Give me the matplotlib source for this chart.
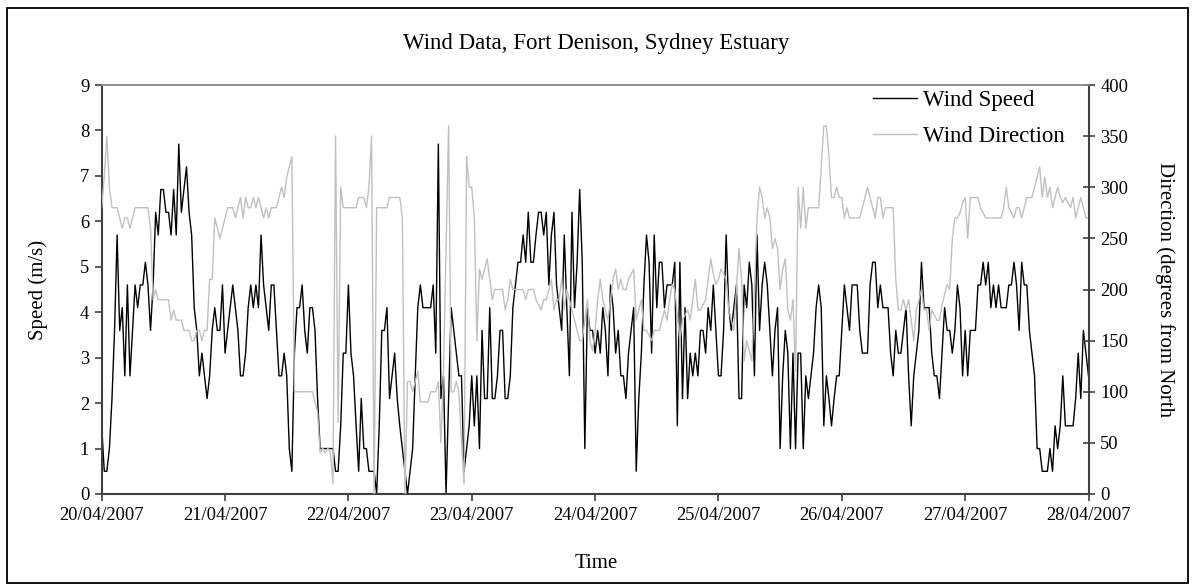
import matplotlib
matplotlib.use("Agg")
import matplotlib.pyplot as plt
import matplotlib.dates as mdates
import pandas as pd
from matplotlib.patches import Rectangle

# Half-hourly readings from 20/04/2007 00:00 to 28/04/2007 00:00
start = "2007-04-20 00:00"
end = "2007-04-28 00:00"

speed_ms = [
    # 20/04
    1.5, 0.5, 0.5, 1.0, 2.1, 3.6, 5.7, 3.6, 4.1, 2.6, 4.6, 2.6,
    3.6, 4.6, 4.1, 4.6, 4.6, 5.1, 4.6, 3.6, 4.6, 6.2, 5.7, 6.7,
    6.7, 6.2, 6.2, 5.7, 6.7, 5.7, 7.7, 6.2, 6.7, 7.2, 6.2, 5.7,
    4.1, 3.6, 2.6, 3.1, 2.6, 2.1, 2.6, 3.6, 4.1, 3.6, 3.6, 4.6,
    # 21/04
    3.1, 3.6, 4.1, 4.6, 4.1, 3.6, 2.6, 2.6, 3.1, 4.1, 4.6, 4.1,
    4.6, 4.1, 5.7, 4.6, 4.1, 3.6, 4.6, 4.6, 3.6, 2.6, 2.6, 3.1,
    2.6, 1.0, 0.5, 3.1, 4.1, 4.1, 4.6, 3.6, 3.1, 4.1, 4.1, 3.6,
    2.1, 1.0, 1.0, 1.0, 1.0, 1.0, 1.0, 0.5, 0.5, 1.5, 3.1, 3.1,
    # 22/04
    4.6, 3.1, 2.6, 1.5, 0.5, 2.1, 1.0, 1.0, 0.5, 0.5, 0.5, 0.0,
    1.5, 3.6, 3.6, 4.1, 2.1, 2.6, 3.1, 2.1, 1.5, 1.0, 0.5, 0.0,
    0.5, 1.0, 2.6, 4.1, 4.6, 4.1, 4.1, 4.1, 4.1, 4.6, 3.1, 7.7,
    2.1, 2.6, 0.0, 2.1, 4.1, 3.6, 3.1, 2.6, 2.6, 0.5, 1.0, 1.5,
    # 23/04
    2.6, 1.5, 2.6, 1.0, 3.6, 2.1, 2.1, 4.1, 2.1, 2.1, 2.6, 3.6,
    3.6, 2.1, 2.1, 2.6, 4.1, 4.6, 5.1, 5.1, 5.7, 5.1, 6.2, 5.1,
    5.1, 5.7, 6.2, 6.2, 5.7, 6.2, 4.6, 5.7, 6.2, 4.6, 4.1, 3.6,
    5.7, 4.1, 2.6, 6.2, 4.1, 5.1, 6.7, 5.1, 1.0, 4.1, 3.6, 3.6,
    # 24/04
    3.1, 3.6, 3.1, 4.1, 3.6, 2.6, 4.6, 4.1, 3.1, 3.6, 2.6, 2.6,
    2.1, 3.1, 3.6, 4.1, 0.5, 2.1, 3.1, 4.6, 5.7, 5.1, 3.1, 5.7,
    4.1, 5.1, 5.1, 4.1, 4.6, 4.6, 4.6, 5.1, 1.5, 5.1, 2.1, 4.1,
    2.1, 3.1, 2.6, 3.1, 2.6, 3.6, 3.6, 3.1, 4.1, 3.6, 4.6, 3.6,
    # 25/04
    2.6, 2.6, 3.6, 5.7, 4.1, 3.6, 4.1, 4.6, 2.1, 2.1, 4.6, 4.1,
    5.1, 4.6, 2.6, 5.7, 3.6, 4.6, 5.1, 4.6, 3.6, 2.6, 3.6, 4.1,
    1.0, 2.6, 3.6, 3.1, 1.0, 3.1, 1.0, 3.1, 3.1, 1.0, 2.6, 2.1,
    2.6, 3.1, 4.1, 4.6, 4.1, 1.5, 2.6, 2.1, 1.5, 2.1, 2.6, 2.6,
    # 26/04
    3.6, 4.6, 4.1, 3.6, 4.6, 4.6, 4.6, 3.6, 3.1, 3.1, 3.1, 4.6,
    5.1, 5.1, 4.1, 4.6, 4.1, 4.1, 4.1, 3.1, 2.6, 3.6, 3.1, 3.1,
    3.6, 4.1, 2.6, 1.5, 2.6, 3.1, 3.6, 5.1, 4.1, 4.1, 4.1, 3.1,
    2.6, 2.6, 2.1, 3.1, 4.1, 3.6, 3.6, 3.1, 3.6, 4.6, 4.1, 2.6,
    # 27/04 and midnight 28/04
    3.6, 2.6, 3.6, 3.6, 3.6, 4.6, 4.6, 5.1, 4.6, 5.1, 4.1, 4.6,
    4.1, 4.6, 4.1, 4.1, 4.1, 4.6, 4.6, 5.1, 4.6, 3.6, 5.1, 4.6,
    4.6, 3.6, 3.1, 2.6, 1.0, 1.0, 0.5, 0.5, 0.5, 1.0, 0.5, 1.5,
    1.0, 1.5, 2.6, 1.5, 1.5, 1.5, 1.5, 2.1, 3.1, 2.1, 3.6, 3.1,
    2.6,
]

direction_deg = [
    # 20/04
    280, 310, 350, 300, 280, 280, 280, 270, 260, 270, 270, 260,
    270, 280, 280, 280, 280, 280, 280, 260, 190, 200, 190, 190,
    190, 190, 190, 170, 180, 170, 170, 170, 160, 160, 160, 150,
    150, 160, 160, 150, 160, 160, 210, 210, 270, 260, 250, 260,
    # 21/04
    270, 280, 280, 280, 270, 280, 290, 270, 290, 280, 280, 290,
    280, 290, 280, 270, 280, 270, 280, 280, 280, 290, 300, 290,
    310, 320, 330, 100, 100, 100, 100, 100, 100, 100, 100, 90,
    80, 40, 45, 40, 45, 40, 10, 350, 70, 300, 280, 280,
    # 22/04
    280, 280, 280, 280, 290, 290, 290, 280, 300, 350, 0, 280,
    280, 280, 280, 280, 290, 290, 290, 290, 290, 270, 0, 110,
    110, 100, 110, 120, 90, 90, 90, 90, 100, 100, 100, 110,
    50, 120, 240, 360, 100, 100, 110, 100, 50, 10, 330, 300,
    # 23/04
    300, 270, 150, 220, 210, 220, 230, 210, 190, 200, 200, 200,
    200, 180, 190, 210, 200, 200, 200, 200, 200, 190, 200, 200,
    200, 190, 185, 180, 190, 190, 200, 210, 180, 190, 190, 210,
    180, 200, 190, 180, 170, 160, 150, 150, 170, 190, 150, 140,
    # 24/04
    160, 190, 210, 190, 180, 170, 190, 210, 220, 200, 210, 200,
    200, 210, 215, 220, 170, 180, 190, 160, 160, 155, 150, 160,
    160, 160, 170, 180, 170, 190, 205, 200, 175, 150, 170, 175,
    180, 170, 190, 210, 180, 180, 185, 190, 210, 230, 215, 205,
    # 25/04
    210, 220, 215, 210, 180, 170, 160, 200, 240, 210, 130, 150,
    140, 130, 200, 270, 300, 290, 270, 280, 270, 240, 250, 240,
    200, 220, 230, 180, 170, 190, 120, 300, 260, 300, 260, 280,
    280, 280, 280, 280, 320, 360, 360, 330, 290, 290, 300, 290,
    # 26/04
    290, 270, 280, 270, 270, 270, 270, 270, 280, 290, 300, 290,
    280, 270, 290, 290, 270, 280, 280, 280, 280, 210, 180, 180,
    190, 180, 190, 170, 150, 180, 190, 200, 180, 180, 160, 180,
    175, 170, 170, 185, 195, 205, 200, 250, 270, 270, 275, 285,
    # 27/04 and midnight 28/04
    290, 250, 290, 290, 290, 290, 280, 275, 270, 270, 270, 270,
    270, 270, 270, 280, 300, 280, 275, 270, 280, 280, 270, 280,
    290, 290, 290, 300, 310, 320, 290, 310, 290, 300, 280, 290,
    300, 290, 285, 290, 285, 280, 290, 270, 280, 290, 280, 270,
    270,
]

speed_ticks = list(range(0, 10))
direction_ticks = list(range(0, 401, 50))

plt.rcParams["font.family"] = ["Liberation Serif", "DejaVu Serif"]

W, H = 1192, 585
fig = plt.figure(figsize=(W / 100, H / 100), dpi=100)
fig.patch.set_facecolor("white")

# plot area in pixels: x 102..1088, y 85..494
ax = fig.add_axes([101.7 / W, 1 - 494 / H, 986.8 / W, 409 / H])
ax2 = ax.twinx()

t_speed = pd.date_range(start, end, periods=len(speed_ms))
t_dir = pd.date_range(start, end, periods=len(direction_deg))

speed_line, = ax.plot(t_speed, speed_ms, color="black", lw=1.0)
dir_line, = ax2.plot(t_dir, direction_deg, color="#c0c0c0", lw=1.0)

ax.set_xlim(t_speed[0], t_speed[-1])
ax.set_ylim(0, 9)
ax2.set_ylim(0, 400)
ax.set_yticks(speed_ticks)
ax2.set_yticks(direction_ticks)

ax.xaxis.set_major_locator(mdates.DayLocator())
ax.xaxis.set_major_formatter(mdates.DateFormatter("%d/%m/%Y"))

axis_col = "#404040"
for a in (ax, ax2):
    a.spines["top"].set_color("#909090")
    a.spines["top"].set_linewidth(1.2)
ax.spines["left"].set_color(axis_col)
ax.spines["bottom"].set_color(axis_col)
ax.spines["left"].set_linewidth(1.5)
ax.spines["bottom"].set_linewidth(1.5)
ax.spines["right"].set_visible(False)
ax2.spines["left"].set_visible(False)
ax2.spines["bottom"].set_visible(False)
ax2.spines["right"].set_color(axis_col)
ax2.spines["right"].set_linewidth(1.5)

tick_fs = 13.3
ax.tick_params(axis="y", direction="out", length=5, width=1.2, color=axis_col,
               labelsize=tick_fs, pad=4)
ax.tick_params(axis="x", direction="out", length=5, width=1.2, color=axis_col,
               labelsize=tick_fs, pad=4)
ax2.tick_params(axis="y", direction="inout", length=9, width=1.2, color=axis_col,
                labelsize=tick_fs, pad=4)

fig.text(0.5, 1 - 43 / H, "Wind Data, Fort Denison, Sydney Estuary",
         ha="center", va="center", fontsize=16.5)
fig.text(38 / W, 1 - 290 / H, "Speed (m/s)", rotation=90,
         ha="center", va="center", fontsize=15)
fig.text(1165 / W, 1 - 290 / H, "Direction (degrees from North", rotation=-90,
         ha="center", va="center", fontsize=15)
fig.text(596 / W, 1 - 563 / H, "Time", ha="center", va="center", fontsize=15)

fig.legend([speed_line, dir_line], ["Wind Speed", "Wind Direction"],
           loc="upper left", bbox_to_anchor=(873 / W, 1 - 90 / H),
           frameon=False, fontsize=16.5, handlelength=1.9, handletextpad=0.3,
           labelspacing=0.65, borderpad=0, borderaxespad=0)

# outer chart border
fig.add_artist(Rectangle((7 / W, 1 - 583 / H), (1188 - 7) / W, (583 - 8) / H,
                         transform=fig.transFigure, fill=False,
                         edgecolor="black", lw=1.3))

fig.savefig("out.png", dpi=100)
plt.close(fig)
